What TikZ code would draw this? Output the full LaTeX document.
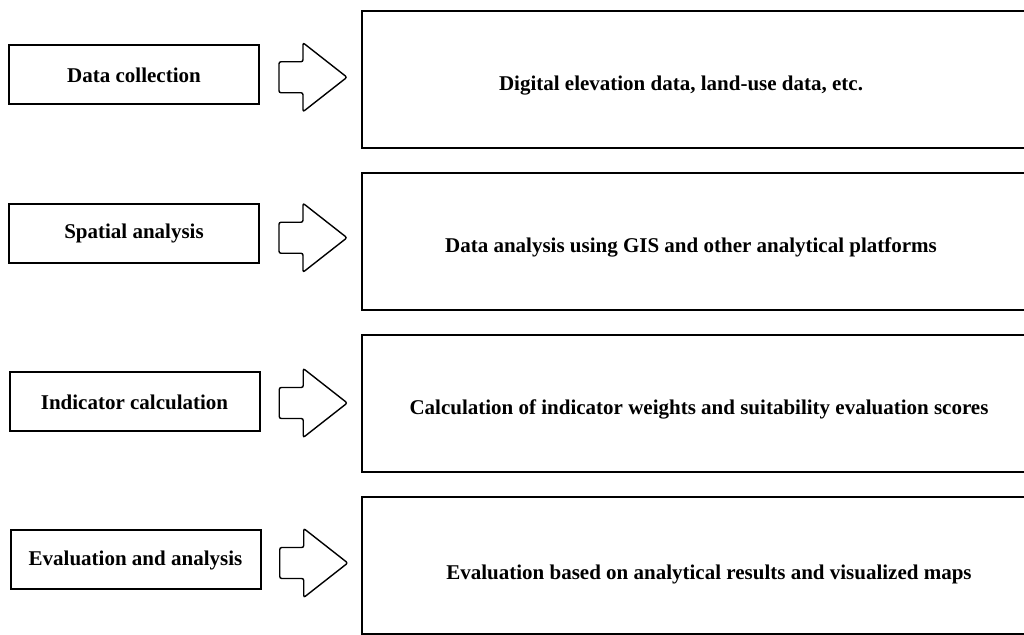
\documentclass[tikz,border=0pt]{standalone}
\usepackage{fontspec}
\setmainfont{Liberation Serif}
\usetikzlibrary{calc}

\begin{document}
\begin{tikzpicture}[
    x=0.5pt, y=-0.5pt,
    stage/.style={rectangle, draw, line width=1pt, minimum width=125pt,
      minimum height=29.5pt, inner sep=0pt, font=\fontsize{10.5}{12}\selectfont\bfseries},
    detail/.style={rectangle, draw, line width=1pt, minimum width=340pt,
      minimum height=68.5pt, inner sep=0pt},
    desc/.style={font=\fontsize{10.5}{12}\selectfont\bfseries},
    pics/fatarrow/.style={code={
      \draw[line width=0.7pt, rounded corners=1pt] (-34,-15.5) -- (-10,-15.5) -- (-10,-34.5)
        -- (34,0) -- (-10,34.5) -- (-10,15.5) -- (-34,15.5) -- cycle;}}
  ]
  \clip (0,0) rectangle (1024,635);
  \useasboundingbox (0,0) rectangle (1024,635);

  % workflow stages
  \node[stage] (s1) at (134,75) {Data collection};
  \node[stage] (s2) at (134,233.5) {Spatial analysis};
  \node[stage] (s3) at (134.5,402) {Indicator calculation};
  \node[stage] (s4) at (135.5,560) {Evaluation and analysis};

  % what each stage covers
  \node[detail] (d1) at (702,79.5) {};
  \node[detail] (d2) at (702,242) {};
  \node[detail] (d3) at (702,404) {};
  \node[detail] (d4) at (702,566) {};
  \node[desc] (t1) at ($(d1.center)+(-21,6)$) {Digital elevation data, land-use data, etc.};
  \node[desc] (t2) at ($(d2.center)+(-11,5)$) {Data analysis using GIS and other analytical platforms};
  \node[desc] (t3) at ($(d3.center)+(-3,5)$) {Calculation of indicator weights and suitability evaluation scores};
  \node[desc] (t4) at ($(d4.center)+(7,8)$) {Evaluation based on analytical results and visualized maps};

  % block arrows between the two columns
  \pic at ($(s1.east)!0.5!(d1.west)+(2.5,0)$) {fatarrow};
  \pic at ($(s2.east)!0.5!(d2.west)+(2.5,0)$) {fatarrow};
  \pic at ($(s3.east)!0.5!(d3.west)+(2.5,0)$) {fatarrow};
  \pic at ($(s4.east)!0.5!(d4.west)+(2.5,0)$) {fatarrow};
\end{tikzpicture}
\end{document}
